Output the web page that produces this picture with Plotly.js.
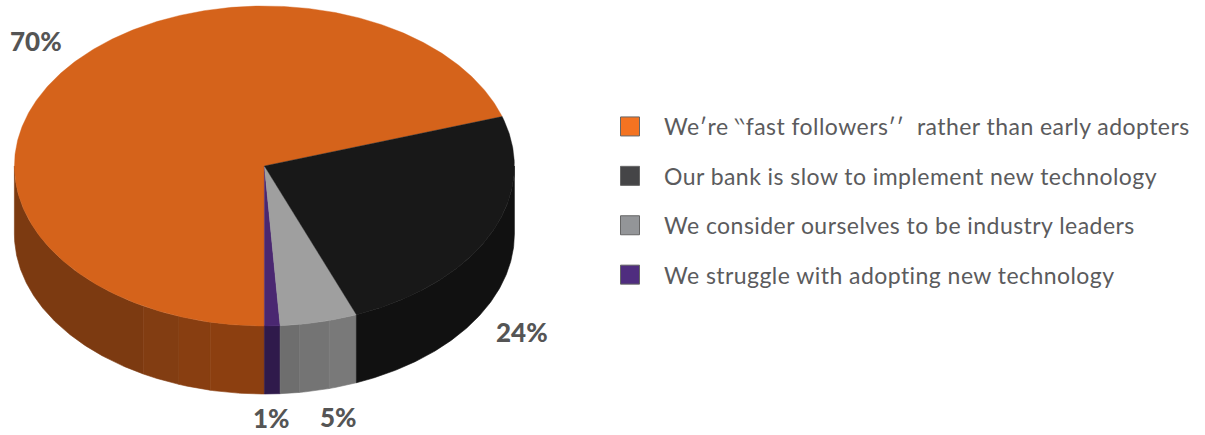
<!DOCTYPE html>
<html>
<head>
<meta charset="utf-8">
<script src="https://cdn.plot.ly/plotly-3.0.1.min.js"></script>
<style>
html,body{margin:0;padding:0;background:#fff;overflow:hidden}
#chart{width:1205px;height:435px}
.legendtext{letter-spacing:0.45px}
/* Larger square keys than the legend's marker size limit allows */
.legendpoints path{d:path("M9.5,9.5H-9.5V-9.5H9.5Z")}
</style>
</head>
<body>
<div id="chart"></div>
<script>
// Survey shares, listed in legend order
const categories = [
  "We′re ‵‵fast followers′′  rather than early adopters",
  "Our bank is slow to implement new technology",
  "We consider ourselves to be industry leaders",
  "We struggle with adopting new technology"
];
const shares = [70, 24, 5, 1];
const shareLabels = ["70%", "24%", "5%", "1%"];
// Order in which the slices run counter-clockwise round the disc
const sliceOrder = [0, 3, 2, 1];

const legendColors = ["#f47321", "#454547", "#939598", "#4f2d7f"];
const topColors = ["#d5631b", "#181818", "#9f9f9f", "#4a2771"];
// Wall shading: each slice's side is split into bands at these angles (degrees)
const wallBandStarts = [[180, 241, 250, 257.5], [291.6], [273.6, 278, 285], [270]];
const wallBandColors = [
  ["#7c3a11", "#823d12", "#883e11", "#8c3f10"],
  ["#111111"],
  ["#6e6e6e", "#747474", "#797979"],
  ["#2f1a4b"]
];
const labelAnchors = [[-0.912, 0.78], [1.03, -1.04], [0.297, -1.57], [0.028, -1.575]];

const START_DEG = 18;
const DEPTH = 0.425;             // wall height in y units
const CX = 264.4, CY = 166, RX = 250, RY = 160;  // disc placement in the figure
const W = 1205, H = 435;

const rad = d => d * Math.PI / 180;
function arc(a0, a1, yOff) {
  const n = Math.max(2, Math.ceil(Math.abs(a1 - a0) / 0.5));
  const xs = [], ys = [];
  for (let i = 0; i <= n; i++) {
    const a = rad(a0 + (a1 - a0) * i / n);
    xs.push(Math.cos(a));
    ys.push(Math.sin(a) + yOff);
  }
  return {xs, ys};
}

const traces = [];
const sliceAngles = [];
let cursor = START_DEG;
sliceOrder.forEach(i => {
  sliceAngles[i] = [cursor, cursor + shares[i] * 3.6];
  cursor += shares[i] * 3.6;
});

function polygon(xs, ys, color, lw) {
  traces.push({
    type: "scatter", mode: "lines", x: xs, y: ys, fill: "toself", fillcolor: color,
    line: {color: color, width: lw}, hoverinfo: "skip", showlegend: false
  });
}

// Side walls of the front half of the disc
sliceOrder.forEach(i => {
  const end = Math.min(sliceAngles[i][1], 360);
  wallBandStarts[i].forEach((b0, k) => {
    const b1 = k + 1 < wallBandStarts[i].length ? wallBandStarts[i][k + 1] : end;
    const upper = arc(b0, b1, 0);
    const lower = arc(b1, b0, -DEPTH);
    polygon(upper.xs.concat(lower.xs, [upper.xs[0]]), upper.ys.concat(lower.ys, [upper.ys[0]]),
            wallBandColors[i][k], 0.6);
  });
});

// Top face wedges
sliceOrder.forEach(i => {
  const [a0, a1] = sliceAngles[i];
  const rim = arc(a0, a1, 0);
  polygon([0].concat(rim.xs, [0]), [0].concat(rim.ys, [0]), topColors[i], 0.4);
});

// Legend entries
categories.forEach((name, i) => {
  traces.push({
    type: "scatter", mode: "markers", x: [null], y: [null], name: name,
    legendgroup: "g" + i, showlegend: true, hoverinfo: "skip",
    marker: {symbol: "square", size: 16, color: legendColors[i], line: {color: "#666666", width: 1}}
  });
});

const annotations = shareLabels.map((t, i) => ({
  text: t, x: labelAnchors[i][0], y: labelAnchors[i][1], xref: "x", yref: "y",
  showarrow: false, xanchor: "center", yanchor: "middle",
  font: {family: "Lato, sans-serif", size: 26, color: "#555555", weight: 900}
}));

const layout = {
  width: W, height: H,
  margin: {l: 0, r: 0, t: 0, b: 0, pad: 0},
  paper_bgcolor: "#ffffff", plot_bgcolor: "#ffffff",
  xaxis: {range: [-CX / RX, (W - CX) / RX], visible: false, fixedrange: true},
  yaxis: {range: [(CY - H) / RY, CY / RY], visible: false, fixedrange: true},
  annotations: annotations,
  showlegend: true,
  legend: {
    x: 596 / W, y: 1 - 105 / H, xanchor: "left", yanchor: "top",
    itemwidth: 58, tracegroupgap: 16.5, itemclick: false, itemdoubleclick: false,
    bgcolor: "rgba(0,0,0,0)", borderwidth: 0,
    font: {family: "Lato, sans-serif", size: 23, color: "#5b5b5d"}
  }
};

Plotly.newPlot("chart", traces, layout, {displayModeBar: false});
</script>
</body>
</html>
